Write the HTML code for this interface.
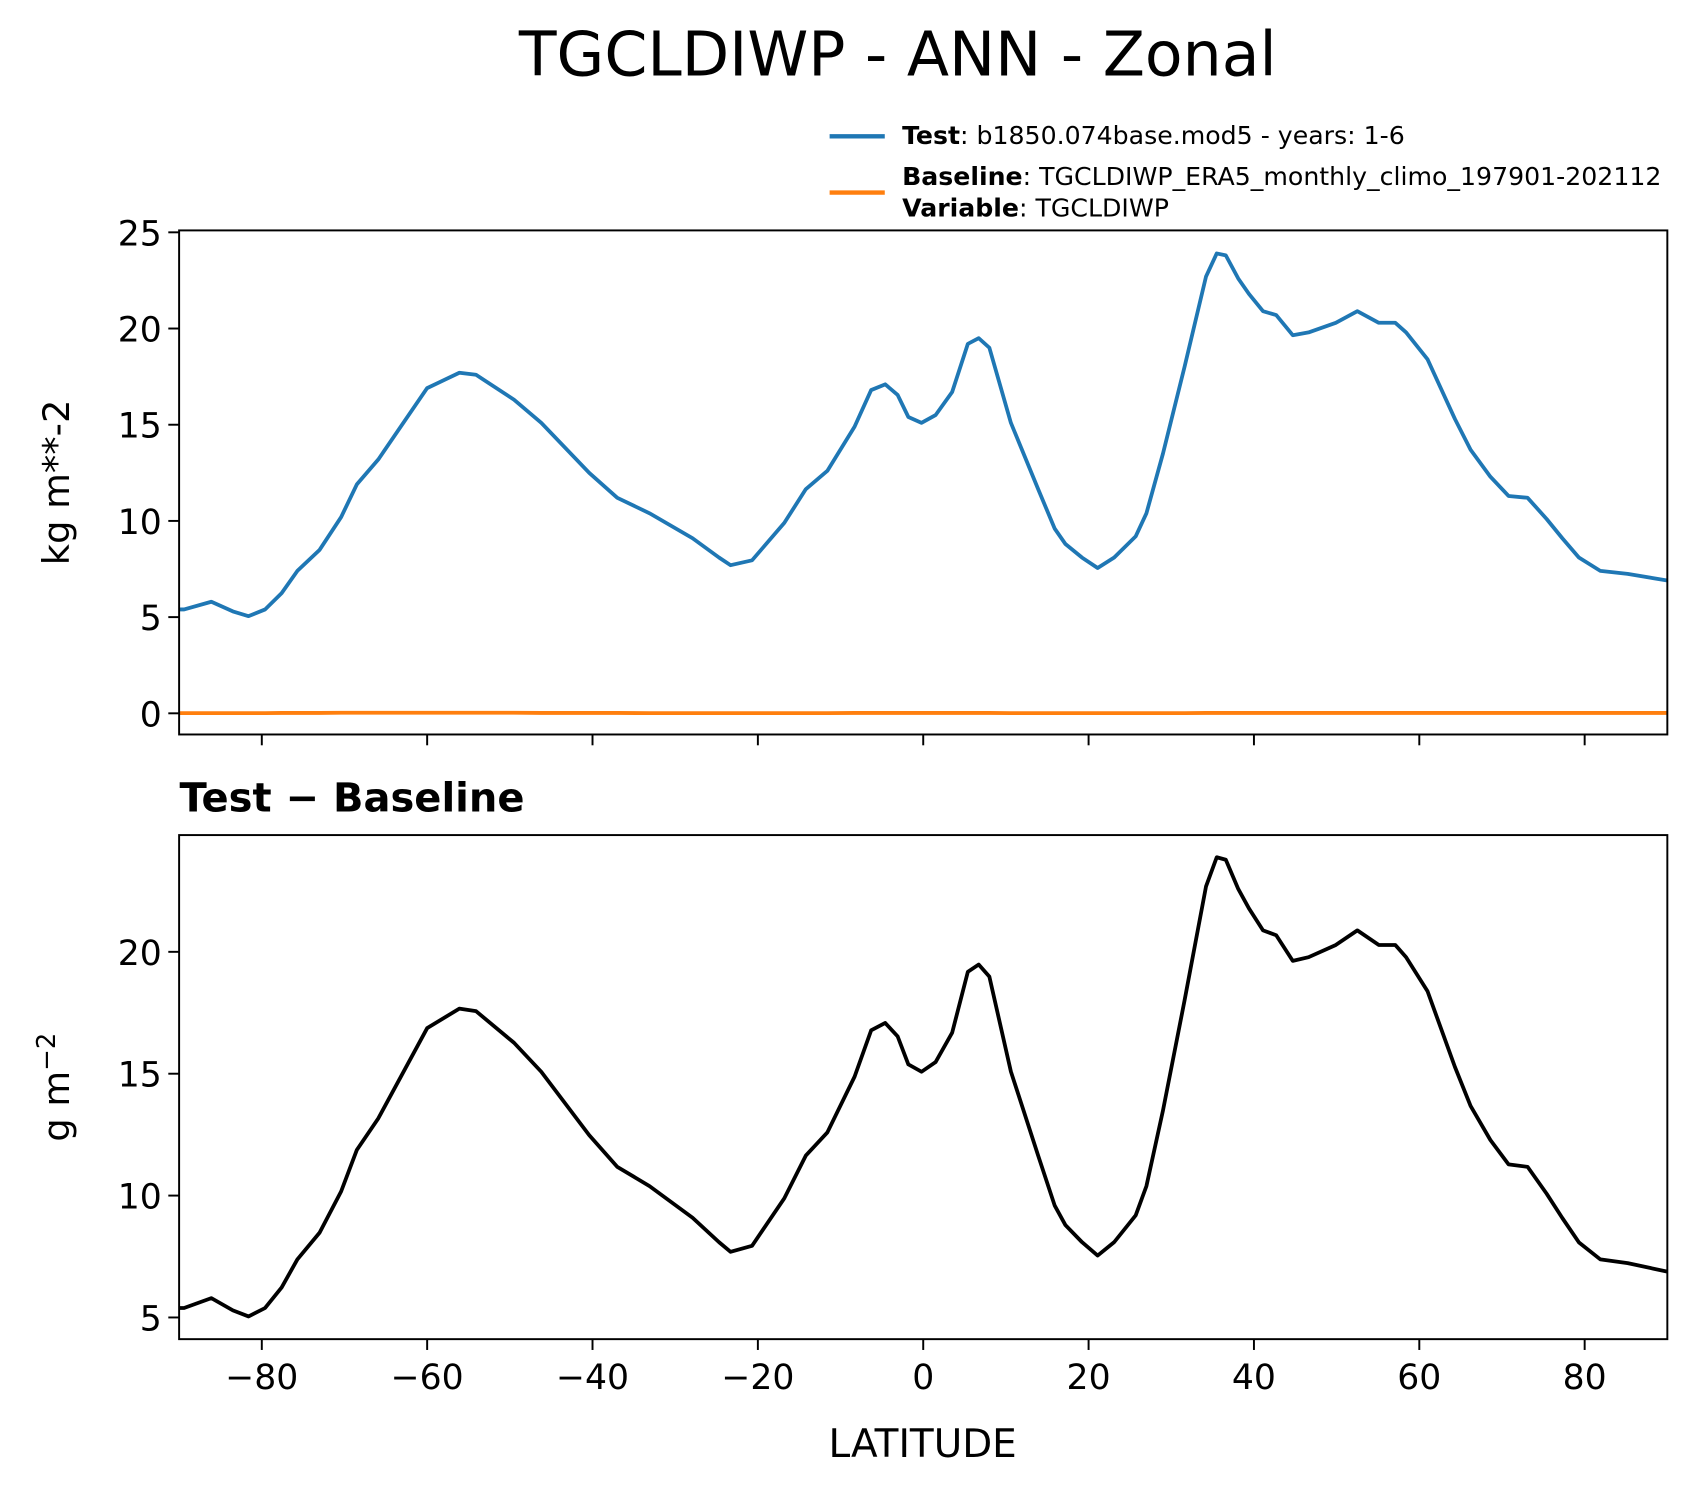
<!DOCTYPE html>
<html><head><meta charset="utf-8"><style>
body{margin:0;background:#fff;}
svg{display:block;font-family:"DejaVu Sans","Liberation Sans",sans-serif;}
</style></head><body>
<svg id="chart" width="1696" height="1496" viewBox="0 0 1568 1383" preserveAspectRatio="none" xmlns="http://www.w3.org/2000/svg">
<rect width="1568" height="1383" fill="#fff"/>
<text x="830" y="70" font-size="57" text-anchor="middle">TGCLDIWP - ANN - Zonal</text>
<g font-size="23.3">
  <line x1="767" y1="126" x2="818" y2="126" stroke="#1f77b4" stroke-width="4"/>
  <text x="834" y="133"><tspan font-weight="bold">Test</tspan>: b1850.074base.mod5 - years: 1-6</text>
  <line x1="767" y1="178" x2="818" y2="178" stroke="#ff7f0e" stroke-width="4"/>
  <text x="834" y="171"><tspan font-weight="bold">Baseline</tspan>: TGCLDIWP_ERA5_monthly_climo_197901-202112</text>
  <text x="834" y="200"><tspan font-weight="bold">Variable</tspan>: TGCLDIWP</text>
</g>
<text x="166" y="750" font-size="37" font-weight="bold">Test − Baseline</text>
<text transform="translate(64,446) rotate(-90)" font-size="34" text-anchor="middle">kg m**-2</text>
<text transform="translate(64,1005) rotate(-90)" font-size="34" text-anchor="middle">g m<tspan font-size="24" dy="-13">−2</tspan></text>
<text x="853" y="1347" font-size="36" text-anchor="middle">LATITUDE</text>
<g id="plots"></g>
</svg>
<script>
const lats=[-90,-89.4,-86.1,-83.5,-81.6,-79.6,-77.6,-75.7,-73,-70.4,-68.5,-65.9,-60,-56.1,-54.1,-49.5,-46.2,-40.4,-37,-33.1,-27.9,-24.7,-23.3,-20.7,-16.8,-14.2,-11.6,-8.3,-6.3,-4.6,-3.1,-1.8,-0.2,1.5,3.5,5.4,6.7,8,10.6,13.9,15.9,17.2,19.2,21.1,23.1,25.7,27,29,31.6,34.2,35.5,36.6,38.1,39.4,41.1,42.7,44.7,46.6,49.9,52.5,55.1,57.1,58.4,61,64.3,66.2,68.6,70.8,73.1,75.4,77.3,79.3,81.9,85.2,90];
const testVals=[5.4,5.4,5.8,5.3,5.05,5.4,6.25,7.4,8.5,10.2,11.9,13.2,16.9,17.7,17.6,16.3,15.1,12.5,11.2,10.4,9.1,8.1,7.7,7.95,9.9,11.65,12.6,14.9,16.8,17.1,16.55,15.4,15.1,15.5,16.7,19.2,19.5,19.0,15.1,11.65,9.6,8.8,8.1,7.55,8.1,9.2,10.4,13.5,18.0,22.7,23.9,23.8,22.6,21.8,20.9,20.7,19.65,19.8,20.3,20.9,20.3,20.3,19.8,18.4,15.3,13.7,12.3,11.3,11.2,10.1,9.1,8.1,7.4,7.25,6.9];
const baseVals=[0.01,0.01,0.01,0.01,0.01,0.01,0.02,0.02,0.02,0.03,0.03,0.03,0.03,0.03,0.03,0.03,0.02,0.02,0.02,0.01,0.01,0.01,0.01,0.01,0.01,0.01,0.01,0.02,0.02,0.02,0.02,0.02,0.02,0.02,0.02,0.02,0.02,0.02,0.01,0.01,0.01,0.01,0.01,0.01,0.01,0.01,0.01,0.01,0.01,0.02,0.02,0.02,0.02,0.02,0.02,0.02,0.02,0.02,0.02,0.02,0.02,0.02,0.02,0.02,0.02,0.02,0.02,0.02,0.02,0.02,0.02,0.02,0.02,0.02,0.02];
const xTicks=[-80,-60,-40,-20,0,20,40,60,80];
const topYTicks=[0,5,10,15,20,25];
const botYTicks=[5,10,15,20];
const NS='http://www.w3.org/2000/svg';
const root=document.getElementById('plots');
const L=165.6,R=1541.5;
const xs=v=>L+(v+90)/180*(R-L);
function mk(tag,attrs,parent){const e=document.createElementNS(NS,tag);for(const k in attrs)e.setAttribute(k,attrs[k]);(parent||root).appendChild(e);return e;}
function panel(name,top,bottom,ymin,ymax,yTicks,series,showXLabels){
  const ys=v=>bottom-(v-ymin)/(ymax-ymin)*(bottom-top);
  const g=mk('g',{});
  
  
  const clip=mk('clipPath',{id:name+'-clip'},g);
  mk('rect',{x:L,y:top,width:R-L,height:bottom-top},clip);
  series.forEach(s=>{
    const pts=s.vals.map((v,i)=>xs(lats[i]).toFixed(1)+','+ys(v).toFixed(1)).join(' ');
    const p=mk('polyline',{points:pts,fill:'none',stroke:s.color,'stroke-width':3.5,'stroke-linejoin':'round','clip-path':'url(#'+name+'-clip)'},g);
    
    
  });
  const fr=mk('rect',{x:L,y:top,width:R-L,height:bottom-top,fill:'none',stroke:'#000','stroke-width':1.8},g);
  
  
  yTicks.forEach(t=>{
    const y=ys(t);
    mk('line',{x1:L-10,x2:L,y1:y,y2:y,stroke:'#000','stroke-width':1.8},g);
    const tx=mk('text',{x:L-16,y:y+12,'font-size':32,'text-anchor':'end'},g);
    tx.textContent=String(t);
    
    
  });
  xTicks.forEach(t=>{
    const x=xs(t);
    mk('line',{x1:x,x2:x,y1:bottom,y2:bottom+10,stroke:'#000','stroke-width':1.8},g);
    if(showXLabels){
      const tx=mk('text',{x:x,y:bottom+46,'font-size':32,'text-anchor':'middle'},g);
      tx.textContent=(t<0?'−':'')+Math.abs(t);
      
      
    }
  });
}
panel('top-panel',213,679,-1.1,25.1,topYTicks,[{name:'test-line',vals:testVals,color:'#1f77b4'},{name:'baseline-line',vals:baseVals,color:'#ff7f0e'}],false);
const diffVals=testVals.map((v,i)=>v-baseVals[i]);
panel('diff-panel',772,1238,4.11,24.79,botYTicks,[{name:'diff-line',vals:diffVals,color:'#000'}],true);
</script>
</body></html>
